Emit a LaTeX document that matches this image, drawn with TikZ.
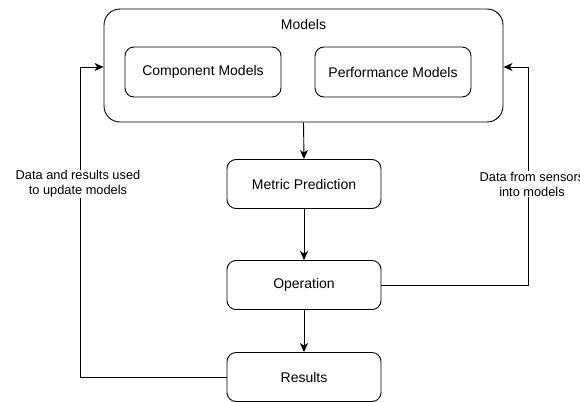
\documentclass[tikz,border=0pt]{standalone}
\usepackage{fontspec}
\setmainfont{Liberation Sans}
\usetikzlibrary{arrows.meta}
\begin{document}
\begin{tikzpicture}[x=1pt,y=-1pt,
  box/.style={draw,line width=0.9pt,rounded corners=9pt,font=\fontsize{14}{16}\selectfont,inner sep=0pt},
  conn/.style={line width=0.9pt,-{Stealth[length=9pt,width=8pt,inset=2.5pt]}},
  lbl/.style={fill=white,font=\fontsize{12.8}{15}\selectfont,align=center,inner sep=1pt}]
\useasboundingbox (0,0) rectangle (580,401);
\node[box,rounded corners=16pt,minimum width=399pt,minimum height=113pt] (models) at (303.5,65.5) {};
\node[font=\fontsize{14}{16}\selectfont] (mtitle) at (303.5,24) {Models};
\node[box,minimum width=156pt,minimum height=50pt] (comp) at (203,72) {Component Models};
\node[box,minimum width=156pt,minimum height=50pt] (perf) at (393,72) {Performance Models};
\node[box,minimum width=154pt,minimum height=49pt] (metric) at (304,184) {Metric Prediction};
\node[box,minimum width=154pt,minimum height=49pt] (oper) at (304,285) {Operation};
\node[box,minimum width=154pt,minimum height=49pt] (res) at (304,377) {Results};
\coordinate (lt) at (80,67);
\coordinate (rt) at (528,67);
\draw[conn] (models.south) -- (metric.north);
\draw[conn] (metric.south) -- (oper.north);
\draw[conn] (oper.south) -- (res.north);
\draw[conn] (res.west) -| (lt) -- (lt -| models.west);
\draw[conn] (oper.east) -| (rt) -- (rt -| models.east);
\node[lbl] (ll) at (78,184) {Data and results used\\to update models};
\node[lbl] (rl) at (532,184) {Data from sensors\\into models};
\end{tikzpicture}
\end{document}
